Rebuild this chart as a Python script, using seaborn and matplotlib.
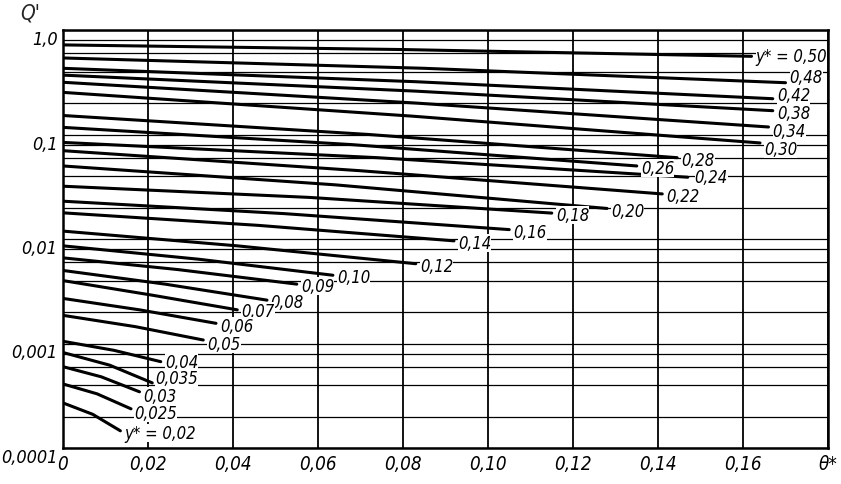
import pandas as pd
import seaborn as sns
import matplotlib.pyplot as plt

# curve parameter y* and the text written at the end of each curve
y_star = [0.50, 0.48, 0.42, 0.38, 0.34, 0.30, 0.28, 0.26, 0.24, 0.22, 0.20, 0.18, 0.16,
          0.14, 0.12, 0.10, 0.09, 0.08, 0.07, 0.06, 0.05, 0.04, 0.035, 0.03, 0.025, 0.02]
curve_labels = ['y* = 0,50', '0,48', '0,42', '0,38', '0,34', '0,30', '0,28', '0,26', '0,24',
                '0,22', '0,20', '0,18', '0,16', '0,14', '0,12', '0,10', '0,09', '0,08',
                '0,07', '0,06', '0,05', '0,04', '0,035', '0,03', '0,025', 'y* = 0,02']

# theta* where each curve is read (start is always 0)
theta_mid = [0.080, 0.085, 0.083, 0.083, 0.083, 0.082, 0.072, 0.068, 0.074, 0.070, 0.064, 0.058, 0.052,
             0.046, 0.041, 0.032, 0.027, 0.024, 0.021, 0.018, 0.017, 0.012, 0.011, 0.009, 0.008, 0.007]
theta_end = [0.162, 0.170, 0.167, 0.167, 0.166, 0.164, 0.1445, 0.135, 0.147, 0.141, 0.128, 0.115, 0.105,
             0.092, 0.083, 0.0635, 0.055, 0.048, 0.041, 0.036, 0.033, 0.023, 0.021, 0.018, 0.016, 0.0135]

# Q' values at theta = 0, theta_mid, theta_end
q_start = [0.72, 0.54, 0.43, 0.37, 0.316, 0.253, 0.152, 0.117, 0.084, 0.070, 0.050, 0.032, 0.023,
           0.0178, 0.0119, 0.0086, 0.0066, 0.0050, 0.0040, 0.0027, 0.00186, 0.00105, 0.00082,
           0.00060, 0.00041, 0.00027]
q_mid = [0.65, 0.43, 0.32, 0.26, 0.20, 0.15, 0.10, 0.080, 0.060, 0.045, 0.033, 0.025, 0.0175,
         0.0135, 0.0086, 0.0064, 0.0051, 0.0037, 0.0029, 0.0021, 0.00145, 0.00086, 0.00062,
         0.00048, 0.00033, 0.00021]
q_end = [0.56, 0.313, 0.220, 0.169, 0.118, 0.083, 0.060, 0.050, 0.039, 0.027, 0.0196, 0.0177, 0.0123,
         0.0096, 0.0058, 0.0045, 0.0037, 0.0026, 0.0021, 0.00156, 0.00108, 0.00067, 0.00042,
         0.000345, 0.000237, 0.000146]

x_ticks = [0, 0.02, 0.04, 0.06, 0.08, 0.10, 0.12, 0.14, 0.16, 0.18]
x_tick_labels = ['0', '0,02', '0,04', '0,06', '0,08', '0,10', '0,12', '0,14', '0,16', 'θ*']
y_ticks = [0.0001, 0.001, 0.01, 0.1, 1.0]
y_tick_labels = ['0,0001', '0,001', '0,01', '0,1', '1,0']
y_grid = [k * 10.0 ** e for e in range(-4, 0) for k in (2, 4, 6, 8)]

# label nudges in points for the crowded ones (default is right of the end)
label_shift = {0.50: (3, 0), 0.48: (3, 4), 0.42: (3, 2.5), 0.38: (3, -1.5), 0.34: (3, -3),
               0.30: (3, -4), 0.24: (5, 0), 0.08: (2, -1), 0.07: (3, -0.5), 0.06: (3, -2),
               0.05: (3, -3), 0.04: (3, 0), 0.035: (2, 3.5), 0.03: (3, -3), 0.025: (2, -3)}

# long table for seaborn
rows = []
for i, ys in enumerate(y_star):
    for t, q in zip([0.0, theta_mid[i], theta_end[i]], [q_start[i], q_mid[i], q_end[i]]):
        rows.append({'y_star': ys, 'theta': t, 'Q': q})
df = pd.DataFrame(rows)

sns.set_style('white')
plt.rcParams['font.family'] = ['DejaVu Sans']
plt.rcParams['font.style'] = 'italic'
plt.rcParams['font.stretch'] = 'condensed'

fig = plt.figure(figsize=(8.41, 4.85), dpi=100)
ax = fig.add_axes([63 / 841, 1 - 449 / 485, 765 / 841, 418 / 485])

sns.lineplot(data=df, x='theta', y='Q', units='y_star', estimator=None,
             color='black', linewidth=2.2, ax=ax, legend=False)

ax.set_yscale('log')
ax.set_xlim(0, 0.18)
ax.set_ylim(0.0001, 1.0)

ax.set_xticks(x_ticks)
ax.set_xticklabels(x_tick_labels, fontsize=13.5, style='italic')
ax.set_yticks(y_ticks)
ax.set_yticklabels(y_tick_labels, fontsize=13, style='italic')
ax.set_yticks(y_grid, minor=True)
ax.set_yticklabels([], minor=True)
plt.setp(ax.get_yticklabels(), va='top')
ax.tick_params(axis='both', which='both', length=0, pad=4, colors='black')

ax.grid(True, axis='x', color='black', linewidth=1.3)
ax.grid(True, axis='y', which='both', color='black', linewidth=0.9)
for s in ax.spines.values():
    s.set_color('black')
    s.set_linewidth(1.8)

ax.set_xlabel('')
ax.set_ylabel('')

# labels at the curve ends
for i, lab in enumerate(curve_labels):
    dx, dy = label_shift.get(y_star[i], (3, -1.5))
    ax.annotate(lab, xy=(theta_end[i], q_end[i]), xytext=(dx, dy),
                textcoords='offset points', ha='left', va='center',
                fontsize=12, style='italic', color='black',
                bbox=dict(boxstyle='square,pad=0.0', fc='white', ec='none'))

fig.text(30 / 841, 1 - 13 / 485, "Q'", fontsize=15, style='italic', ha='center', va='center')

fig.savefig('out.png', dpi=100)
